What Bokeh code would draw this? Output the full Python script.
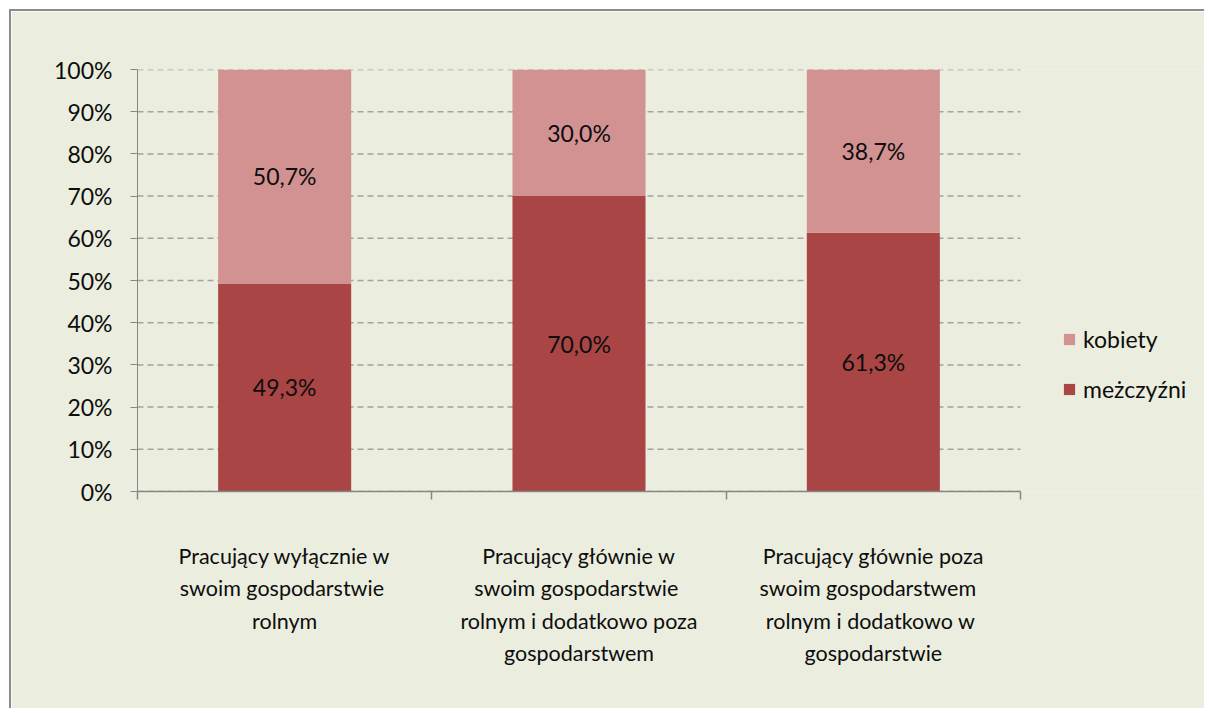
from bokeh.plotting import figure
from bokeh.models import (ColumnDataSource, Range1d, LinearAxis, FixedTicker, NumeralTickFormatter,
                          Legend, LegendItem, CustomJSTickFormatter)
from bokeh.embed import file_html
from bokeh.resources import INLINE
from bokeh.core.properties import value

categories = [
    "Pracujący wyłącznie w\nswoim  gospodarstwie\nrolnym",
    "Pracujący głównie w\nswoim  gospodarstwie\nrolnym i dodatkowo poza\ngospodarstwem",
    "Pracujący głównie poza\nswoim   gospodarstwem\nrolnym  i dodatkowo w\ngospodarstwie",
]
mezczyzni = [49.3, 70.0, 61.3]
kobiety = [50.7, 30.0, 38.7]
series_names = ["kobiety", "meżczyźni"]
y_ticks = [0, 10, 20, 30, 40, 50, 60, 70, 80, 90, 100]

FONT = "Lato"
BG = "#EBEEDE"
C_K = "#D39292"
C_M = "#A94545"
AX = "#868686"
TXT = "#0D0D0D"

n = len(categories)
xpos = list(range(n))
m_frac = [v / 100 for v in mezczyzni]
k_frac = [v / 100 for v in kobiety]
src = ColumnDataSource(dict(
    x=xpos,
    m=m_frac,
    k=k_frac,
    m_mid=[v / 2 for v in m_frac],
    k_mid=[a + b / 2 for a, b in zip(m_frac, k_frac)],
    m_lab=[f"{v:.1f}%".replace(".", ",") for v in mezczyzni],
    k_lab=[f"{v:.1f}%".replace(".", ",") for v in kobiety],
))

# layout (page pixels)
OX, OY = 11, 12
W, H = 1195, 699
F_LEFT, F_TOP, F_BOTTOM, AXIS_RIGHT = 137, 70, 492, 1020
frame_right = OX + W
units_per_px = n / (AXIS_RIGHT - F_LEFT)
x_end = n - 0.5 + (frame_right - AXIS_RIGHT) * units_per_px

p = figure(width=W, height=H, x_range=Range1d(-0.5, x_end), y_range=Range1d(0, 1),
           output_backend="svg", toolbar_location=None, x_axis_location=None, y_axis_location=None,
           min_border_left=F_LEFT - OX, min_border_top=F_TOP - OY, min_border_right=0,
           min_border_bottom=(OY + H) - F_BOTTOM)
p.background_fill_color = BG
p.border_fill_color = BG
p.outline_line_color = None
p.xgrid.visible = False
p.ygrid.visible = False
p.styles = {"border-left": "2px solid #8A8A8A", "border-top": "2px solid #8A8A8A",
            "margin-left": "9px", "margin-top": "9px"}

# dashed gridlines spanning only the category area
gsrc = ColumnDataSource(dict(y=[t / 100 for t in y_ticks]))
p.segment(x0=-0.5, x1=n - 0.5, y0="y", y1="y", source=gsrc,
          line_color="#A3A3A3", line_dash="6 4", line_width=1.5)

r_m = p.vbar(x="x", bottom=0, top="m", width=0.452, source=src, fill_color=C_M, line_color=None)
r_k = p.vbar(x="x", bottom="m", top=1, width=0.452, source=src, fill_color=C_K, line_color=None)

# y axis
yaxis = LinearAxis(ticker=FixedTicker(ticks=[t / 100 for t in y_ticks]),
                   formatter=NumeralTickFormatter(format="0%"))
yaxis.axis_line_color = AX
yaxis.major_tick_line_color = AX
yaxis.major_tick_out = 7
yaxis.major_tick_in = 0
yaxis.minor_tick_line_color = None
yaxis.major_label_text_font = FONT
yaxis.major_label_text_font_size = "23px"
yaxis.major_label_text_color = TXT
yaxis.major_label_standoff = 18
p.add_layout(yaxis, "left")

# boundary tick axis
bax = LinearAxis(ticker=FixedTicker(ticks=[i - 0.5 for i in range(n + 1)]),
                 formatter=CustomJSTickFormatter(code="return ''"),
                 bounds=(-0.5, n - 0.5))
bax.axis_line_color = AX
bax.axis_line_width = 1.5
bax.major_tick_line_color = AX
bax.major_tick_line_width = 1.5
bax.major_tick_out = 8
bax.major_tick_in = 0
bax.minor_tick_line_color = None
bax.major_label_text_font_size = "0px"
bax.major_label_standoff = 0
p.add_layout(bax, "below")

# category label axis
cax = LinearAxis(ticker=FixedTicker(ticks=xpos),
                 major_label_overrides={i: c for i, c in zip(xpos, categories)})
cax.axis_line_color = None
cax.major_tick_line_color = None
cax.minor_tick_line_color = None
cax.major_label_text_font = FONT
cax.major_label_text_font_size = "21.5px"
cax.major_label_text_color = TXT
cax.major_label_text_line_height = 1.25
cax.major_label_standoff = 37
p.add_layout(cax, "below")

# data labels
for ycol, lcol in (("m_mid", "m_lab"), ("k_mid", "k_lab")):
    p.text(x="x", y=ycol, text=lcol, source=src, text_align="center", text_baseline="middle",
           text_font=value(FONT), text_font_size="23px", text_color=TXT)

legend = Legend(items=[LegendItem(label=series_names[0], renderers=[r_k]),
                       LegendItem(label=series_names[1], renderers=[r_m])],
                location=(1062 - F_LEFT, 88))
legend.background_fill_alpha = 0
legend.border_line_color = None
legend.padding = 0
legend.margin = 0
legend.spacing = 22
legend.glyph_width = 14
legend.glyph_height = 14
legend.label_height = 26
legend.label_standoff = 7
legend.label_text_font = FONT
legend.label_text_font_size = "23px"
legend.label_text_color = TXT
p.add_layout(legend, "center")

open("out.html", "w").write(file_html(p, INLINE))
